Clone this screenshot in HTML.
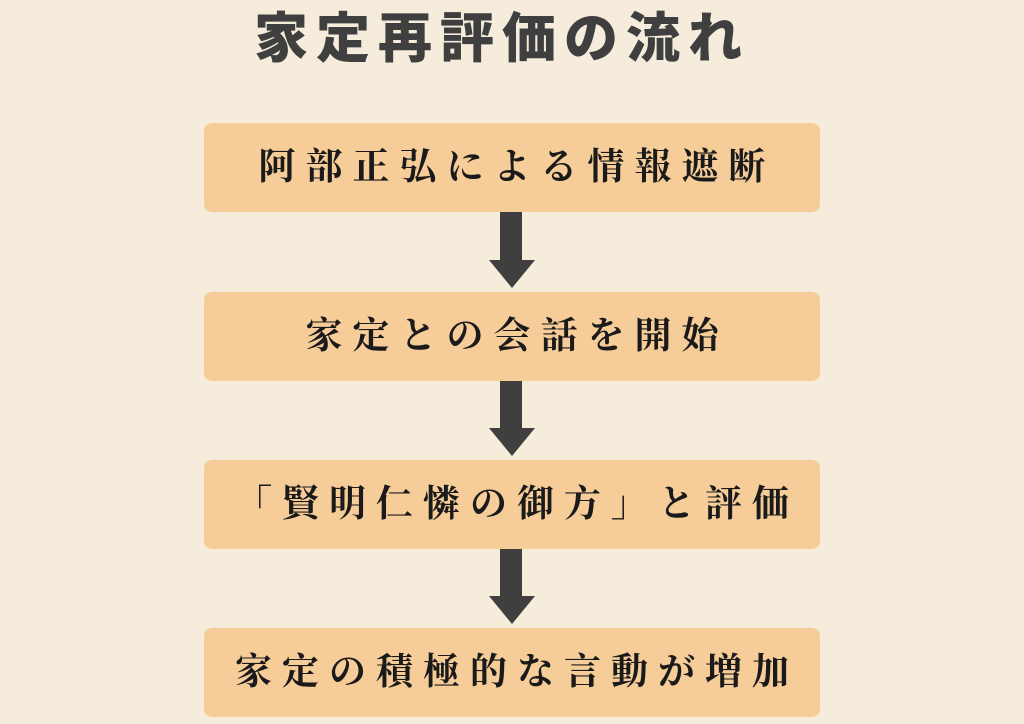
<!DOCTYPE html>
<html><head><meta charset="utf-8"><style>
html,body{margin:0;padding:0}
body{width:1024px;height:724px;background:#f6ecdb;position:relative;overflow:hidden;font-family:"Liberation Serif","Noto Serif CJK SC",serif}
.t{position:absolute;left:0;width:1004px;top:5px;text-align:center;font-family:"Liberation Sans","Noto Sans CJK JP",sans-serif;font-weight:900;font-size:54px;letter-spacing:8px;color:#3f3f3f;line-height:68px}
.b{position:absolute;left:204px;width:616px;height:89px;background:#f6cd98;border-radius:8px;text-align:center;line-height:89px;font-size:37px;font-weight:bold;letter-spacing:10px;color:#1a1a1a;text-indent:10px}
.s{position:absolute;left:500px;width:22px;background:#3f3f3f}
.h{position:absolute;left:489px;width:0;height:0;border-left:23px solid transparent;border-right:23px solid transparent;border-top:28px solid #3f3f3f}
</style></head><body>
<div class="t">家定再評価の流れ</div>
<div class="b" style="top:123px">阿部正弘による情報遮断</div>
<div class="s" style="top:212px;height:49px"></div><div class="h" style="top:260px"></div>
<div class="b" style="top:292px">家定との会話を開始</div>
<div class="s" style="top:381px;height:48px"></div><div class="h" style="top:428px"></div>
<div class="b" style="top:460px">「賢明仁憐の御方」と評価</div>
<div class="s" style="top:549px;height:48px"></div><div class="h" style="top:596px"></div>
<div class="b" style="top:628px">家定の積極的な言動が増加</div>
</body></html>
